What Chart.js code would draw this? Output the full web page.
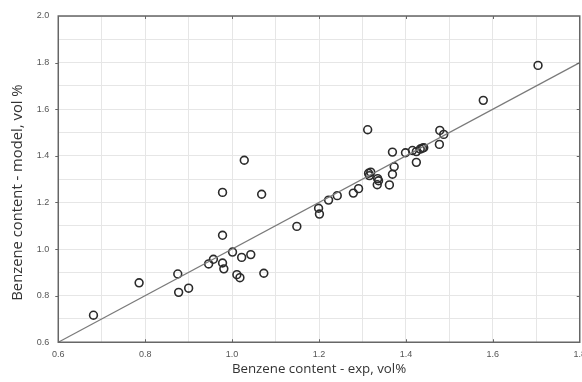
<!DOCTYPE html>
<html>
<head>
<meta charset="utf-8">
<script src="https://cdn.jsdelivr.net/npm/chart.js@4/dist/chart.umd.min.js"></script>
<style>
  html, body { margin: 0; padding: 0; background: #fff; overflow: hidden; }
  #wrap { width: 593px; height: 382px; }
</style>
</head>
<body>
<div id="wrap"><canvas id="chart"></canvas></div>
<script>
// measured (exp) vs. predicted (model) benzene content, vol%
const expValues = [
  0.681, 0.786, 0.875, 0.877, 0.900, 0.946, 0.957, 0.978, 0.981, 0.978,
  0.978, 1.001, 1.011, 1.018, 1.022, 1.028, 1.043, 1.068, 1.073, 1.149,
  1.199, 1.201, 1.222, 1.242, 1.279, 1.291, 1.312, 1.314, 1.319, 1.316,
  1.335, 1.337, 1.334, 1.362, 1.369, 1.373, 1.369, 1.399, 1.415, 1.424,
  1.424, 1.433, 1.438, 1.441, 1.477, 1.478, 1.487, 1.578, 1.704
];
const modelValues = [
  0.716, 0.855, 0.893, 0.814, 0.832, 0.936, 0.956, 0.940, 0.915, 1.059,
  1.243, 0.987, 0.890, 0.877, 0.964, 1.381, 0.976, 1.235, 0.896, 1.097,
  1.175, 1.150, 1.210, 1.229, 1.240, 1.259, 1.512, 1.325, 1.330, 1.315,
  1.302, 1.293, 1.276, 1.275, 1.321, 1.353, 1.416, 1.413, 1.423, 1.418,
  1.372, 1.429, 1.433, 1.435, 1.449, 1.509, 1.492, 1.638, 1.788
];
// y = x reference line
const fitX = [0.6, 1.8];
const fitY = [0.6, 1.8];

const axisMin = 0.6;
const axisMax = 2.0;
const xAxisMax = 1.8;

const points = expValues.map((x, i) => ({ x: x, y: modelValues[i] }));
const line = fitX.map((x, i) => ({ x: x, y: fitY[i] }));

function tickLabel(value) {
  const tenth = Math.round(value * 10);
  return tenth % 2 === 0 ? (tenth / 10).toFixed(1) : '';
}

// dark frame round the plot, with small ticks at every 0.2
const framePlugin = {
  id: 'frame',
  afterDraw(chart) {
    const { ctx, chartArea: a, scales } = chart;
    ctx.save();
    ctx.strokeStyle = '#666';
    ctx.lineWidth = 1.5;
    ctx.strokeRect(a.left, a.top, a.right - a.left, a.bottom - a.top);
    ctx.lineWidth = 1;
    ctx.beginPath();
    for (let v = 0.8; v < xAxisMax - 0.01; v += 0.2) {
      const px = Math.round(scales.x.getPixelForValue(v)) + 0.5;
      ctx.moveTo(px, a.top); ctx.lineTo(px, a.top + 3);
      ctx.moveTo(px, a.bottom); ctx.lineTo(px, a.bottom - 3);
    }
    for (let v = 0.8; v < axisMax - 0.01; v += 0.2) {
      const py = Math.round(scales.y.getPixelForValue(v)) + 0.5;
      ctx.moveTo(a.right, py); ctx.lineTo(a.right - 3, py);
      ctx.moveTo(a.left, py); ctx.lineTo(a.left - 3, py);
    }
    ctx.stroke();
    ctx.restore();
  }
};

new Chart(document.getElementById('chart'), {
  type: 'scatter',
  data: {
    datasets: [
      {
        type: 'line',
        data: line,
        borderColor: '#7a7a7a',
        borderWidth: 1.2,
        pointRadius: 0,
        fill: false,
      },
      {
        data: points,
        pointRadius: 3.9,
        pointBorderWidth: 1.6,
        pointBorderColor: '#2b2b2b',
        pointBackgroundColor: 'rgba(255,255,255,0)',
      }
    ]
  },
  options: {
    responsive: true,
    maintainAspectRatio: false,
    animation: false,
    layout: { padding: { top: 16, left: 9, right: 0, bottom: 5 } },
    plugins: {
      legend: { display: false },
      tooltip: { enabled: false },
    },
    scales: {
      x: {
        type: 'linear',
        min: axisMin,
        max: xAxisMax,
        grid: { color: '#e6e6e6', lineWidth: 1, drawTicks: false },
        border: { display: false },
        ticks: {
          stepSize: 0.1,
          autoSkip: false,
          maxRotation: 0,
          padding: 7,
          color: '#555',
          font: { family: 'Liberation Sans', size: 9 },
          callback: tickLabel,
        },
        title: {
          display: true,
          text: 'Benzene content - exp, vol%',
          color: '#333',
          font: { family: 'Open Sans', size: 13.3 },
          padding: { top: -6, bottom: 0 },
        }
      },
      y: {
        type: 'linear',
        min: axisMin,
        max: axisMax,
        grid: { color: '#e6e6e6', lineWidth: 1, drawTicks: false },
        border: { display: false },
        ticks: {
          stepSize: 0.1,
          autoSkip: false,
          padding: 9,
          color: '#555',
          font: { family: 'Liberation Sans', size: 9 },
          callback: tickLabel,
        },
        title: {
          display: true,
          text: 'Benzene content - model, vol %       ',
          color: '#333',
          font: { family: 'Open Sans', size: 14.8 },
          padding: { top: 0, bottom: 1 },
        }
      }
    }
  },
  plugins: [framePlugin]
});
</script>
</body>
</html>
